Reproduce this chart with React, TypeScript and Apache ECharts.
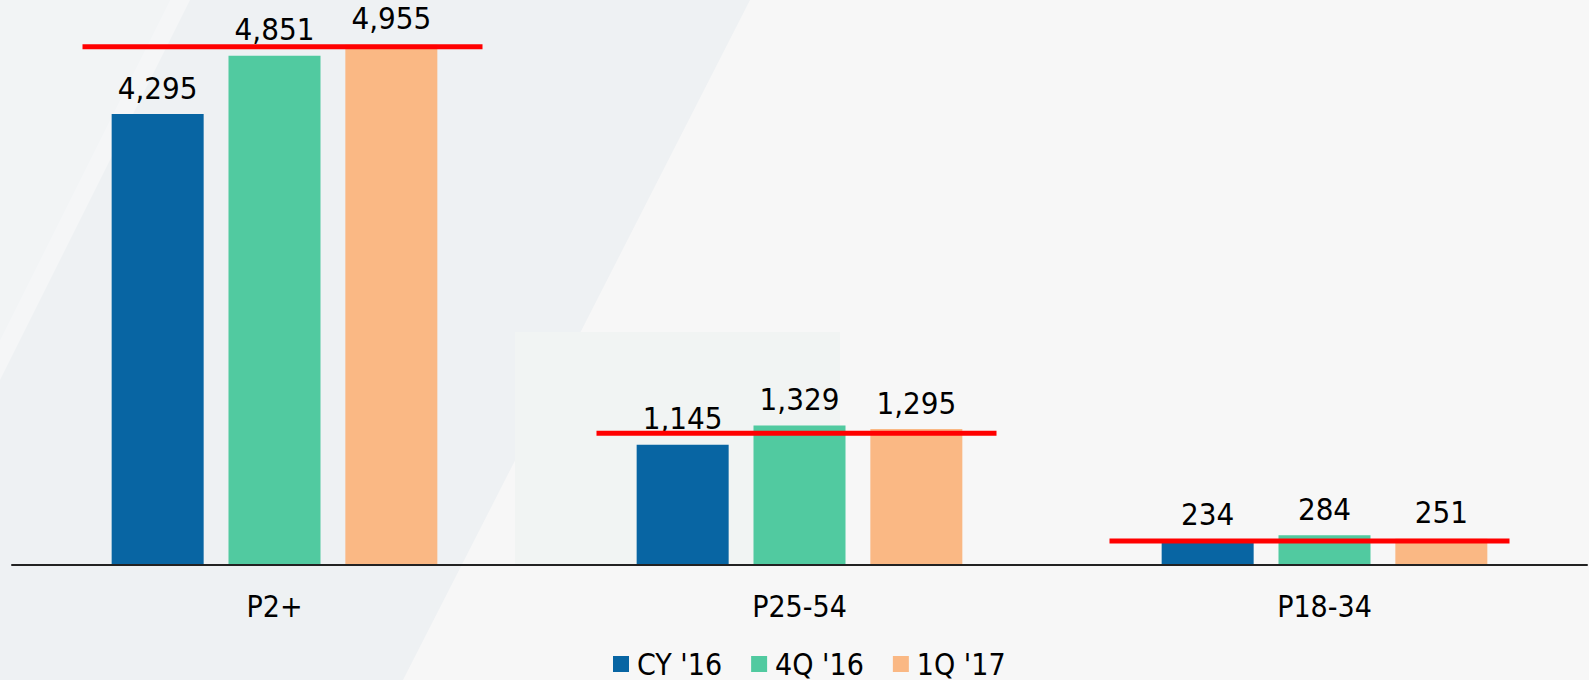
import React, { useEffect, useRef } from "react";
import * as echarts from "echarts";

const categories = ["P2+", "P25-54", "P18-34"];
const seriesNames = ["CY '16", "4Q '16", "1Q '17"];
const cy16 = [4295, 1145, 234];
const q4_16 = [4851, 1329, 284];
const q1_17 = [4955, 1295, 251];
const refLine = [4936, 1254, 229];

const COLORS = ["#0865a3", "#51caa0", "#fab884"];
const FONT = "'DejaVu Sans Condensed', 'DejaVu Sans', sans-serif";
const REF_SHIFT = [8, -3, -15];
const REF_WIDTH = 400;

export default function App() {
  const ref = useRef<HTMLDivElement>(null);
  useEffect(() => {
    if (!ref.current) return;
    const chart = echarts.init(ref.current, undefined, { renderer: "svg" });
    const values = [cy16, q4_16, q1_17];
    const barSeries = values.map((vals, i) => ({
      name: seriesNames[i],
      type: "bar",
      data: vals,
      barWidth: 92,
      barGap: "27%",
      itemStyle: { color: COLORS[i] },
      label: {
        show: true,
        position: "top",
        distance: 11,
        fontFamily: FONT,
        fontSize: 31,
        lineHeight: 31,
        color: "#000",
        formatter: (p: any) => Number(p.value).toLocaleString("en-US"),
      },
      z: 2,
    }));
    chart.setOption({
      animation: false,
      backgroundColor: "#f7f7f7",
      graphic: {
        elements: [
          {
            type: "polygon",
            z: -10,
            silent: true,
            shape: { points: [[0, 0], [750, 0], [403, 680], [0, 680]] },
            style: { fill: "#eef1f3" },
          },
          {
            type: "polygon",
            z: -9,
            silent: true,
            shape: { points: [[0, 0], [170, 0], [0, 340]] },
            style: { fill: "#f2f4f5" },
          },
          {
            type: "polygon",
            z: -9,
            silent: true,
            shape: { points: [[170, 0], [190, 0], [0, 380], [0, 340]] },
            style: { fill: "#f5f6f7" },
          },
          {
            type: "rect",
            z: -9,
            silent: true,
            shape: { x: 515, y: 332, width: 325, height: 233 },
            style: { fill: "#f1f4f3" },
          },
        ],
      },
      legend: {
        data: seriesNames,
        left: 613,
        top: 649,
        padding: 0,
        itemWidth: 16,
        itemHeight: 16,
        itemGap: 29,
        icon: "rect",
        textStyle: {
          fontFamily: FONT,
          fontSize: 30,
          color: "#000",
          padding: [0, 0, 0, 3],
        },
      },
      grid: { left: 12, right: 2, top: 40, bottom: 115, containLabel: false },
      xAxis: {
        type: "category",
        data: categories,
        z: 5,
        axisLine: { show: true, lineStyle: { color: "#222", width: 2 } },
        axisTick: { show: false },
        axisLabel: { fontFamily: FONT, fontSize: 30, color: "#000", margin: 26 },
      },
      yAxis: { type: "value", min: 0, max: 5000, show: false, splitLine: { show: false } },
      series: [
        ...barSeries,
        {
          name: "ref",
          type: "custom",
          z: 3,
          silent: true,
          data: refLine.map((v, i) => [i, v]),
          renderItem: (params: any, api: any) => {
            const idx = api.value(0);
            const p = api.coord([idx, api.value(1)]);
            return {
              type: "rect",
              shape: {
                x: p[0] - REF_WIDTH / 2 + REF_SHIFT[params.dataIndex],
                y: p[1] - 2.5,
                width: REF_WIDTH,
                height: 5,
              },
              style: { fill: "#ff0000" },
            };
          },
        },
      ],
    });
    return () => chart.dispose();
  }, []);
  return (
    <div
      ref={ref}
      style={{ position: "absolute", left: 0, top: 0, width: 1589, height: 680 }}
    />
  );
}
